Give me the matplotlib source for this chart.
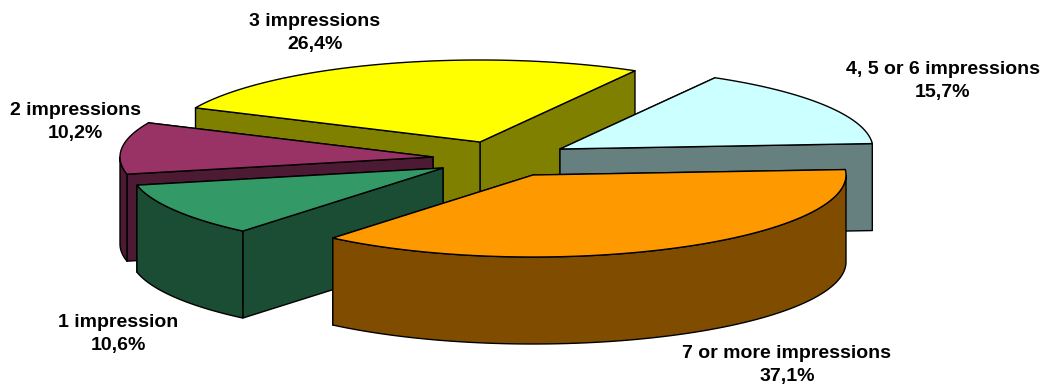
#!/bin/python3

import numpy as np
import matplotlib
matplotlib.use('Agg')
import matplotlib.pyplot as plt
from matplotlib.patches import Polygon

plt.rcParams['font.family'] = ['Liberation Sans', 'DejaVu Sans']

# clockwise from the start angle
categories = ['7 or more impressions', '1 impression', '2 impressions',
              '3 impressions', '4, 5 or 6 impressions']
shares = [37.1, 10.6, 10.2, 26.4, 15.7]

top_colors = ['#ff9900', '#339966', '#993366', '#ffff00', '#ccffff']
side_colors = ['#804d00', '#1a4d33', '#4d1a33', '#808000', '#668080']

# tip of each exploded slice, in pixels
tips = [(533, 175), (443, 168), (433, 157), (480, 142), (560, 149)]
label_pos = [(787, 365), (118, 334), (75, 122), (315, 33), (943, 81)]

# back slices are drawn first
draw_order = [3, 4, 2, 1, 0]

START_ANGLE = 3.8
RX = 313
RY = 82
DEPTH = 87
EDGE = dict(edgecolor='black', linewidth=1.0, joinstyle='round')


def rim(tip, a, b):
    t = np.radians(np.linspace(a, b, 80))
    return np.column_stack([tip[0] + RX * np.cos(t), tip[1] - RY * np.sin(t)])


def wall(points, color, zorder):
    lower = points[::-1] + [0, DEPTH]
    ax.add_patch(Polygon(np.vstack([points, lower]), closed=True,
                         facecolor=color, zorder=zorder, **EDGE))


def draw_slice(ax, i, a, b, zorder):
    tip = np.array(tips[i], dtype=float)
    outer = rim(tip, a, b)
    # cut faces, the one further back goes first so it ends up hidden
    ends = sorted([outer[0], outer[-1]], key=lambda p: p[1])
    for end in ends:
        wall(np.array([tip, end]), side_colors[i], zorder)
    # outer wall, only the part facing the viewer
    front_a, front_b = min(a, 0), max(b, -180)
    if front_a > front_b:
        wall(rim(tip, front_a, front_b), side_colors[i], zorder)
    top = np.vstack([tip, outer])
    ax.add_patch(Polygon(top, closed=True, facecolor=top_colors[i],
                         zorder=zorder, **EDGE))


fig = plt.figure(figsize=(10.42, 3.87), dpi=100)
ax = fig.add_axes([0, 0, 1, 1])
ax.set_xlim(0, 1042)
ax.set_ylim(387, 0)
ax.axis('off')

spans = np.array(shares) / sum(shares) * 360
ends = START_ANGLE - np.cumsum(spans)
starts = ends + spans

for z, i in enumerate(draw_order):
    draw_slice(ax, i, starts[i], ends[i], z + 1)

for name, share, pos in zip(categories, shares, label_pos):
    text = '%s\n%s%%' % (name, ('%.1f' % share).replace('.', ','))
    ax.text(pos[0], pos[1], text, ha='center', va='center', ma='center',
            fontsize=14, fontweight='bold', color='black', linespacing=1.45,
            zorder=10)

fig.savefig('out.png', dpi=100)
